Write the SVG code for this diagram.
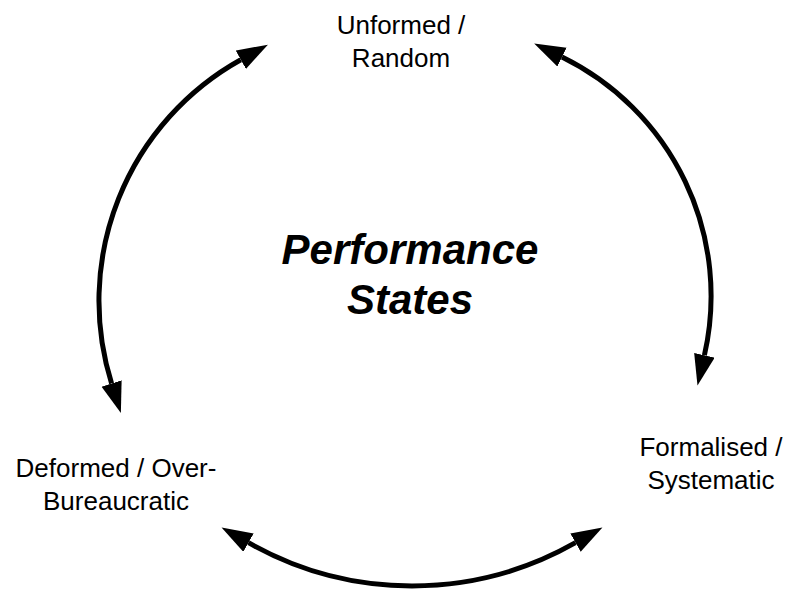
<svg xmlns="http://www.w3.org/2000/svg" width="796" height="592" viewBox="0 0 796 592">
<style>
.lbl{font-family:"Liberation Sans",Arial,sans-serif;font-size:26px;fill:#000;text-anchor:middle}
.title{font-family:"Liberation Sans",Arial,sans-serif;font-size:42px;font-weight:bold;font-style:italic;fill:#000;text-anchor:middle}
.arc{fill:none;stroke:#000;stroke-width:5;marker-start:url(#ah);marker-end:url(#ah)}
</style>
<defs>
<marker id="ah" markerUnits="userSpaceOnUse" markerWidth="32" markerHeight="22" refX="0" refY="10.5" orient="auto-start-reverse" viewBox="0 0 32 22">
<path d="M0,0 L31,10.5 L0,21 z" fill="#000"/>
</marker>
</defs>
<rect width="796" height="592" fill="#fff"/>
<g id="connectors">
<path class="arc" d="M240.8,59.7 A276,276 0 0 0 111.6,383.5"/>
<path class="arc" d="M562.0,57.1 A266,266 0 0 1 704.4,355.3"/>
<path class="arc" d="M248.5,542.7 A331,331 0 0 0 575.5,542.7"/>
</g>
<g id="center">
<text class="title" x="410" y="264">Performance</text>
<text class="title" x="410" y="314">States</text>
</g>
<g id="unformed">
<text class="lbl" x="401" y="34">Unformed /</text>
<text class="lbl" x="401" y="67">Random</text>
</g>
<g id="deformed">
<text class="lbl" x="116" y="477">Deformed / Over-</text>
<text class="lbl" x="116" y="510">Bureaucratic</text>
</g>
<g id="formalised">
<text class="lbl" x="711" y="456">Formalised /</text>
<text class="lbl" x="711" y="489">Systematic</text>
</g>
</svg>
